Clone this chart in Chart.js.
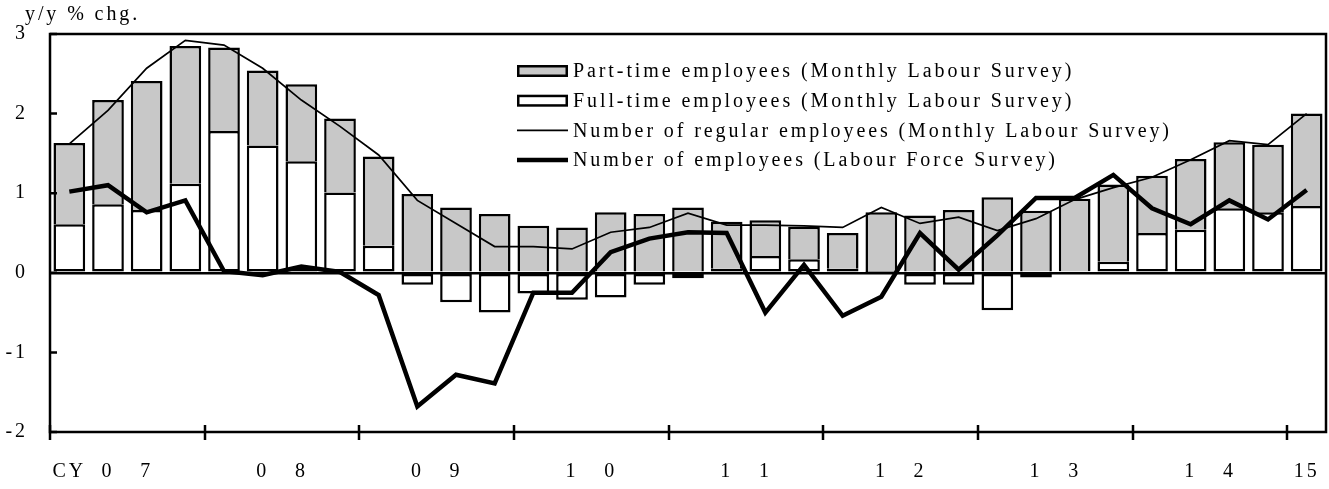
<!DOCTYPE html>
<html>
<head>
<meta charset="utf-8">
<script src="https://cdn.jsdelivr.net/npm/chart.js@4/dist/chart.umd.min.js"></script>
<style>
  html, body { margin: 0; padding: 0; background: #fff; }
  #wrap { width: 1329px; height: 489px; }
</style>
</head>
<body>
<div id="wrap"><canvas id="c" width="1329" height="489"></canvas></div>
<script>
// Quarterly labels, 2007 Q1 .. 2015 Q1 (year digits sit under Q2/Q3)
const quarterLabels = [
  'CY', '0', '7', '',
  '', '0', '8', '',
  '', '0', '9', '',
  '', '1', '0', '',
  '', '1', '1', '',
  '', '1', '2', '',
  '', '1', '3', '',
  '', '1', '4', '',
  '15'
];

// y/y % change
const fullTime = [0.61, 0.86, 0.79, 1.12, 1.78, 1.60, 1.40, 1.01, 0.34, -0.15, -0.37, -0.50, -0.26, -0.34, -0.31, -0.15, -0.07, 0.05, 0.21, 0.17, 0.05, 0.01, -0.15, -0.15, -0.47, -0.06, 0.02, 0.14, 0.50, 0.54, 0.81, 0.76, 0.84];
const partTime = [1.02, 1.31, 1.62, 1.73, 1.05, 0.94, 0.97, 0.93, 1.12, 0.99, 0.82, 0.74, 0.59, 0.57, 0.76, 0.74, 0.82, 0.59, 0.45, 0.41, 0.45, 0.75, 0.72, 0.79, 0.95, 0.78, 0.91, 0.97, 0.72, 0.89, 0.83, 0.85, 1.16];
const regularEmployees = [1.62, 2.04, 2.57, 2.92, 2.86, 2.57, 2.17, 1.84, 1.48, 0.91, 0.62, 0.33, 0.33, 0.30, 0.51, 0.57, 0.75, 0.60, 0.60, 0.59, 0.57, 0.82, 0.62, 0.70, 0.53, 0.68, 0.92, 1.07, 1.20, 1.42, 1.66, 1.61, 2.00];
const lfsEmployees = [1.02, 1.10, 0.76, 0.91, 0.02, -0.03, 0.08, 0.01, -0.28, -1.68, -1.28, -1.39, -0.25, -0.25, 0.26, 0.43, 0.51, 0.50, -0.50, 0.10, -0.54, -0.30, 0.50, 0.04, 0.47, 0.94, 0.94, 1.23, 0.81, 0.61, 0.91, 0.67, 1.04];

const unitLabel = 'y/y % chg.';

const FONT = "'Liberation Serif', 'Times New Roman', serif";
const SPACING = '2.9px';
const GRAY = '#c8c8c8';

// Wide letter spacing for every text drawn on the canvas
const spacingPlugin = {
  id: 'spacing',
  beforeLayout(chart) { chart.ctx.letterSpacing = SPACING; },
  beforeDraw(chart) { chart.ctx.letterSpacing = SPACING; }
};

// Box frame, year ticks on the x axis, inward ticks on the y axis, unit label
const framePlugin = {
  id: 'frame',
  afterDatasetsDraw(chart) {
    const { ctx, chartArea: a, scales: { x, y } } = chart;
    ctx.save();
    ctx.strokeStyle = '#000';
    ctx.lineWidth = 2.5;
    ctx.strokeRect(a.left, a.top, a.right - a.left, a.bottom - a.top);
    const half = (x.getPixelForValue(1) - x.getPixelForValue(0)) / 2;
    ctx.beginPath();
    for (let i = 0; i < quarterLabels.length; i += 4) {
      const px = Math.round(x.getPixelForValue(i) - half);
      ctx.moveTo(px, a.bottom - 7);
      ctx.lineTo(px, a.bottom + 8);
    }
    for (const t of y.ticks) {
      const py = y.getPixelForValue(t.value);
      ctx.moveTo(a.left, py);
      ctx.lineTo(a.left + 7, py);
    }
    ctx.stroke();

    ctx.letterSpacing = SPACING;
    ctx.font = '20px ' + FONT;
    ctx.fillStyle = '#000';
    ctx.textAlign = 'left';
    ctx.textBaseline = 'middle';
    ctx.fillText(unitLabel, 25, 15);
    ctx.restore();
  }
};

// Legend inside the plot area
const legendPlugin = {
  id: 'boxLegend',
  afterDraw(chart) {
    const { ctx, chartArea: a } = chart;
    const x0 = a.left + 467, w = 51, textX = a.left + 523;
    ctx.save();
    ctx.letterSpacing = SPACING;
    ctx.font = '20px ' + FONT;
    ctx.textBaseline = 'middle';
    ctx.textAlign = 'left';
    chart.data.datasets.forEach((ds, i) => {
      const yc = a.top + 37 + i * 29.7;
      ctx.strokeStyle = '#000';
      if (ds.type === 'line') {
        ctx.lineWidth = ds.borderWidth;
        ctx.beginPath();
        ctx.moveTo(x0, yc);
        ctx.lineTo(x0 + w, yc);
        ctx.stroke();
      } else {
        ctx.fillStyle = ds.backgroundColor;
        ctx.fillRect(x0, yc - 6, w, 12);
        ctx.lineWidth = 2.5;
        ctx.strokeRect(x0 + 1.25, yc - 4.75, w - 2.5, 9.5);
      }
      ctx.fillStyle = '#000';
      ctx.fillText(ds.label, textX, yc + 1);
    });
    ctx.restore();
  }
};

new Chart(document.getElementById('c'), {
  data: {
    labels: quarterLabels,
    datasets: [
      {
        type: 'bar', label: 'Part-time employees (Monthly Labour Survey)',
        data: partTime, stack: 'mls', order: 3,
        backgroundColor: GRAY, borderColor: '#000', borderWidth: 2.5,
        borderSkipped: 'start', barPercentage: 0.82, categoryPercentage: 1.0
      },
      {
        type: 'bar', label: 'Full-time employees (Monthly Labour Survey)',
        data: fullTime, stack: 'mls', order: 2,
        backgroundColor: '#ffffff', borderColor: '#000', borderWidth: 2.5,
        borderSkipped: false, barPercentage: 0.82, categoryPercentage: 1.0
      },
      {
        type: 'line', label: 'Number of regular employees (Monthly Labour Survey)',
        data: regularEmployees, stack: 'reg', order: 1,
        borderColor: '#000', borderWidth: 1.7, pointRadius: 0, tension: 0, fill: false
      },
      {
        type: 'line', label: 'Number of employees (Labour Force Survey)',
        data: lfsEmployees, stack: 'lfs', order: 0,
        borderColor: '#000', borderWidth: 4.5, pointRadius: 0, tension: 0, fill: false,
        borderJoinStyle: 'miter'
      }
    ]
  },
  options: {
    responsive: false,
    animation: false,
    devicePixelRatio: 1,
    layout: { padding: { left: 0, right: 3, top: 34, bottom: 0 } },
    plugins: {
      legend: { display: false },
      tooltip: { enabled: false },
      title: { display: false }
    },
    scales: {
      x: {
        stacked: true,
        grid: { display: false, drawTicks: false },
        border: { display: false },
        ticks: {
          autoSkip: false, maxRotation: 0, minRotation: 0, padding: 28,
          color: '#000', font: { family: FONT, size: 20 }
        },
        afterFit(s) { s.height = 57; s.paddingLeft = 0; s.paddingRight = 0; }
      },
      y: {
        stacked: true, min: -2, max: 3,
        grid: {
          drawTicks: false,
          color: c => (c.tick && c.tick.value === 0 ? '#000' : 'rgba(0,0,0,0)'),
          lineWidth: 2.5
        },
        border: { display: false },
        ticks: {
          stepSize: 1, padding: 22, color: '#000',
          font: { family: FONT, size: 20 }
        },
        afterFit(s) { s.width = 50; s.paddingTop = 0; s.paddingBottom = 0; }
      }
    }
  },
  plugins: [spacingPlugin, framePlugin, legendPlugin]
});
</script>
</body>
</html>
